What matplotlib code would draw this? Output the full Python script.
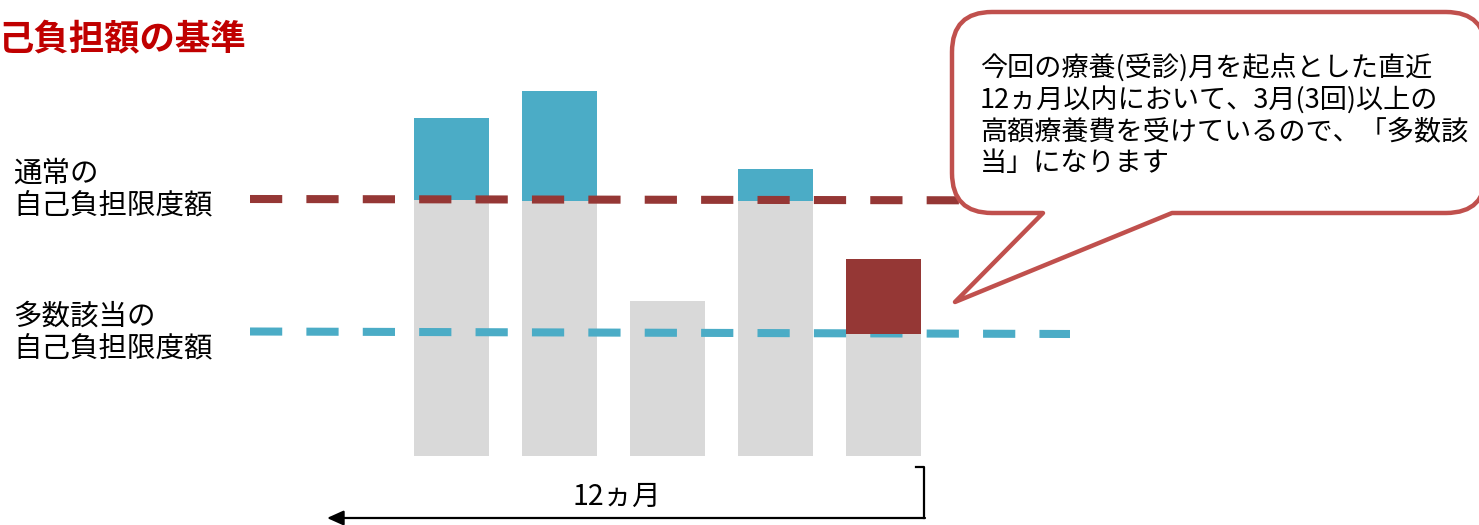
import numpy as np
import matplotlib
matplotlib.use("Agg")
from matplotlib import pyplot as plt
from matplotlib.path import Path
from matplotlib.patches import PathPatch

plt.rcParams['font.family'] = ['Noto Sans CJK JP', 'DejaVu Sans']

# データ（ベースラインからの高さ）
months = [0, 1, 2, 3, 4]
base_part = [256, 255, 155, 255, 122]      # 灰色（自己負担部分）
over_normal = [82, 110, 0, 32, 0]          # 青（通常の限度額を超えた部分）
over_multi = [0, 0, 0, 0, 75]              # 赤（多数該当の限度額を超えた部分）
normal_limit = [257, 255.5]                # 通常の自己負担限度額（左端, 右端）
multi_limit = [124.5, 122]                 # 多数該当の自己負担限度額（左端, 右端）

title = "己負担額の基準"   # 元画像では左端で切れている
label_normal = "通常の\n自己負担限度額"
label_multi = "多数該当の\n自己負担限度額"
bubble_text = "今回の療養(受診)月を起点とした直近\n12ヵ月以内において、3月(3回)以上の\n高額療養費を受けているので、「多数該\n当」になります"
period_text = "12ヵ月"

W, H = 1479, 525
fig = plt.figure(figsize=(W / 100, H / 100), dpi=100)

# 棒グラフ用の軸
x0, x1 = -1.866, 5.727
ax = fig.add_axes([250 / W, (H - 456) / H, 820 / W, 400 / H])
ax.set_xlim(x0, x1)
ax.set_ylim(0, 400)
ax.axis('off')

width = 0.70
ax.bar(months, base_part, width=width, color='#D9D9D9', zorder=1)
ax.bar(months, over_normal, width=width, bottom=base_part, color='#4BACC6', zorder=1)
ax.bar(months, over_multi, width=width, bottom=base_part, color='#953735', zorder=3)

lw = 5.8
ax.plot([x0, x1], normal_limit, color='#953735', lw=lw, dashes=(32 / 8, 24 / 8),
        solid_capstyle='butt', dash_capstyle='butt', zorder=2)
ax.plot([x0, x1], multi_limit, color='#4BACC6', lw=lw, dashes=(32 / 8, 24 / 8),
        solid_capstyle='butt', dash_capstyle='butt', zorder=2)

# 注釈用の軸（ピクセル座標）
ov = fig.add_axes([0, 0, 1, 1], zorder=3)
ov.set_xlim(0, W)
ov.set_ylim(H, 0)
ov.axis('off')
ov.patch.set_alpha(0)

ov.text(-2, 40, title, fontsize=25.5, fontweight='bold', color='#C00000', va='center', ha='left')
ov.text(13, 190, label_normal, fontsize=20.5, color='black', va='center', ha='left', linespacing=1.12)
ov.text(13, 333, label_multi, fontsize=20.5, color='black', va='center', ha='left', linespacing=1.12)

# 吹き出し
l, r, t, b, rad = 952, 1486, 12, 213, 40
verts = [
    (l + rad, t), (r - rad, t), (r, t), (r, t + rad),
    (r, b - rad), (r, b), (r - rad, b),
    (1172, b), (955, 302), (1043, b),
    (l + rad, b), (l, b), (l, b - rad),
    (l, t + rad), (l, t), (l + rad, t), (l + rad, t),
]
codes = [
    Path.MOVETO, Path.LINETO, Path.CURVE3, Path.CURVE3,
    Path.LINETO, Path.CURVE3, Path.CURVE3,
    Path.LINETO, Path.LINETO, Path.LINETO,
    Path.LINETO, Path.CURVE3, Path.CURVE3,
    Path.LINETO, Path.CURVE3, Path.CURVE3, Path.CLOSEPOLY,
]
ov.add_patch(PathPatch(Path(verts, codes), facecolor='white', edgecolor='#C0504D',
                       lw=3.2, joinstyle='round'))
ov.text(980, 115, bubble_text, fontsize=19.5, color='black', va='center', ha='left', linespacing=1.2)

# 12ヵ月の矢印
ov.plot([916, 924, 924], [467, 467, 518], color='black', lw=1.6)
ov.annotate('', xy=(327, 518), xytext=(925, 518),
            arrowprops=dict(arrowstyle='-|>,head_length=1.0,head_width=0.45', lw=1.6,
                            color='black', shrinkA=0, shrinkB=0))
ov.text(617, 497, period_text, fontsize=20.5, color='black', va='center', ha='center')

fig.savefig('out.png', dpi=100)
